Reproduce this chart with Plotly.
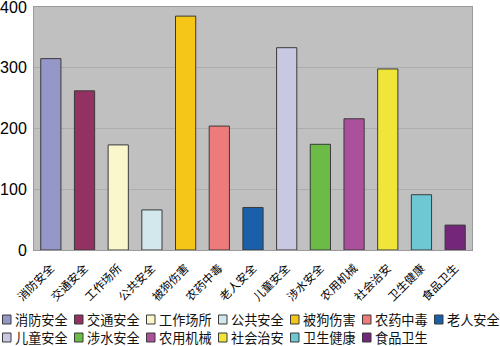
import plotly.graph_objects as go

# Categories, counts and bar colours
categories = ["消防安全", "交通安全", "工作场所", "公共安全", "被狗伤害", "农药中毒", "老人安全",
              "儿童安全", "涉水安全", "农用机械", "社会治安", "卫生健康", "食品卫生"]
values = [315, 262, 173, 66, 385, 204, 70, 333, 174, 216, 298, 91, 41]
colors = ["#9597C9", "#933262", "#FAF7CC", "#D2E8EC", "#F5C518", "#EE7B7B", "#1A5FAA",
          "#C8C8E2", "#6BBB46", "#AB519B", "#F0E63A", "#6EC8D4", "#74267A"]
y_ticks = [0, 100, 200, 300, 400]

W, H = 500, 346
L, R, T, B = 34, 28, 7, 96
pw, ph = W - L - R, H - T - B


def fx(p):
    return (p - L) / pw


def fy(p):
    return (H - B - p) / ph


fig = go.Figure(go.Bar(
    x=categories, y=values, width=0.6,
    marker=dict(color=colors, line=dict(color="#3a3a3a", width=1)),
    showlegend=False,
))

# Two-row key under the chart
shapes, annotations = [], []
per_row, step = 7, 72.0
for i, (name, col) in enumerate(zip(categories, colors)):
    r, c = divmod(i, per_row)
    cy = 319.5 + r * 18
    x0 = 2.5 + c * step
    shapes.append(dict(type="rect", xref="paper", yref="paper",
                       x0=fx(x0), x1=fx(x0 + 8.5), y0=fy(cy - 4.5), y1=fy(cy + 4.5),
                       fillcolor=col, line=dict(color="#3a3a3a", width=1)))
    annotations.append(dict(text=name, xref="paper", yref="paper", x=fx(x0 + 11),
                            y=fy(cy), xanchor="left", yanchor="middle", showarrow=False,
                            borderpad=0, height=17,
                            font=dict(family="Noto Sans CJK SC", size=13.2, color="#111")))

fig.update_layout(
    width=W, height=H,
    margin=dict(l=L, r=R, t=T, b=B, autoexpand=False),
    paper_bgcolor="white", plot_bgcolor="#C0C0C0",
    font=dict(family="Liberation Sans, Noto Sans CJK SC", color="black"),
    shapes=shapes, annotations=annotations,
    bargap=0.4,
)
fig.update_xaxes(
    automargin=False,
    tickangle=-45, tickfont=dict(family="Noto Sans CJK SC", size=11.5),
    ticks="outside", ticklen=6, tickcolor="rgba(0,0,0,0)",
    showline=True, linecolor="#9a9a9a", mirror=True, showgrid=False,
    range=[-0.5, len(categories) - 0.5],
)
fig.update_yaxes(
    automargin=False, ticklabeloverflow="allow",
    range=[0, 400], tickvals=y_ticks, tickfont=dict(size=16),
    showgrid=True, gridcolor="#adadad", gridwidth=1, zeroline=False,
    showline=True, linecolor="#9a9a9a", mirror=True,
    ticks="outside", ticklen=3, tickcolor="rgba(0,0,0,0)",
)

fig.write_html("out.html")
